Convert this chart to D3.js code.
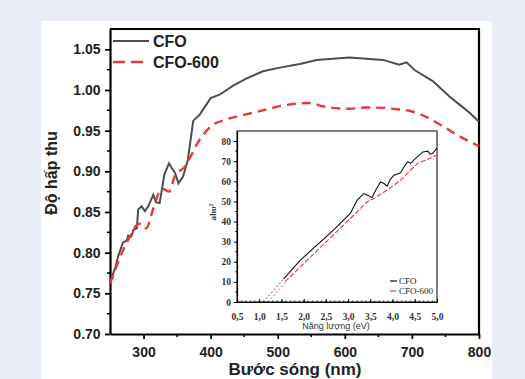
<!DOCTYPE html>
<html>
<head>
<meta charset="utf-8">
<script src="https://cdn.jsdelivr.net/npm/d3@7"></script>
<style>
  body { margin: 0; background: #e8ecf6; }
  svg { display: block; }
</style>
</head>
<body>
<svg width="525" height="379"></svg>
<script>
// main spectrum (wavelength nm, absorbance)
var cfoWl  = [250, 252.5, 258, 262, 269, 275, 277, 282, 285, 290, 292, 297, 302, 307, 314.5, 318.5, 324, 331, 338, 342, 347, 352, 359, 366, 374, 384, 400, 414, 433, 453, 478, 503, 533, 558, 582, 607, 632, 657, 681, 692, 704, 731, 756, 771, 786, 800];
var cfoAbs = [0.765, 0.769, 0.782, 0.795, 0.812, 0.815, 0.821, 0.820, 0.828, 0.830, 0.853, 0.857, 0.851, 0.857, 0.871, 0.862, 0.861, 0.896, 0.910, 0.904, 0.898, 0.885, 0.894, 0.914, 0.962, 0.970, 0.990, 0.9945, 1.005, 1.014, 1.023, 1.0275, 1.032, 1.037, 1.0385, 1.040, 1.0385, 1.037, 1.031, 1.034, 1.0245, 1.011, 0.992, 0.982, 0.972, 0.961];

var cfo600Wl  = [250, 255, 262, 270, 280, 290, 297, 304, 314, 324, 330, 338, 347, 362, 370, 380, 390, 400, 424, 453, 483, 508, 533, 548, 567, 582, 607, 632, 657, 681, 696, 721, 746, 771, 800];
var cfo600Abs = [0.762, 0.772, 0.788, 0.804, 0.820, 0.834, 0.836, 0.830, 0.853, 0.875, 0.878, 0.875, 0.895, 0.906, 0.918, 0.934, 0.946, 0.955, 0.964, 0.970, 0.976, 0.981, 0.9835, 0.984, 0.980, 0.978, 0.977, 0.9785, 0.978, 0.976, 0.9745, 0.967, 0.9555, 0.943, 0.931];

var xTicks = [300, 400, 500, 600, 700, 800];
var yTicks = [0.70, 0.75, 0.80, 0.85, 0.90, 0.95, 1.00, 1.05];

// inset Tauc plot (energy eV, (ahv)^2)
var insCfoE  = [1.55, 1.92, 2.67, 3.05, 3.2, 3.35, 3.45, 3.54, 3.62, 3.73, 3.81, 3.88, 3.95, 4.03, 4.18, 4.26, 4.34, 4.41, 4.5, 4.56, 4.68, 4.79, 4.85, 4.90, 5.0];
var insCfoV  = [11.5, 20.7, 35.7, 44, 50.5, 53.9, 53, 51.9, 55.6, 59.7, 58.9, 57.6, 61, 63, 64.2, 67.2, 69.7, 68.9, 71, 72.1, 74.6, 75, 73.5, 73.8, 76.5];
var insCfo600E = [1.58, 2.3, 3.05, 3.43, 3.58, 3.9, 4.18, 4.56, 4.8, 5.0];
var insCfo600V = [10, 25.5, 41.5, 49.8, 51.4, 56, 60.5, 68.9, 71, 73];
var insCfoFitE = [1.09, 1.55], insCfoFitV = [0, 11.5];
var insCfo600FitE = [1.2, 1.6], insCfo600FitV = [0, 10];
var insXTicks = [0.5, 1.0, 1.5, 2.0, 2.5, 3.0, 3.5, 4.0, 4.5, 5.0];
var insYTicks = [0, 10, 20, 30, 40, 50, 60, 70, 80];

var svg = d3.select("svg");
var sans = "'Liberation Sans', Arial, sans-serif";
var serif = "'Liberation Serif', 'Times New Roman', serif";

svg.append("rect").attr("x", 41).attr("y", 21).attr("width", 451).attr("height", 360).attr("fill", "#fff");

var m = {left: 110, right: 479, top: 29, bottom: 334};
var x = d3.scaleLinear().domain([250, 800]).range([m.left, m.right]);
var y = d3.scaleLinear().domain([0.70, 1.075]).range([m.bottom, m.top]);

var g = svg.append("g");

// minor ticks
g.selectAll(".mx").data(d3.range(350, 800, 100)).enter().append("line")
  .attr("x1", d => x(d)).attr("x2", d => x(d)).attr("y1", m.bottom).attr("y2", m.bottom + 3)
  .attr("stroke", "#000").attr("stroke-width", 1.5);
g.selectAll(".my").data(d3.range(0.725, 1.07, 0.05)).enter().append("line")
  .attr("x1", m.left).attr("x2", m.left - 3).attr("y1", d => y(d)).attr("y2", d => y(d))
  .attr("stroke", "#000").attr("stroke-width", 1.5);

var xa = g.append("g").attr("transform", "translate(0," + m.bottom + ")")
  .call(d3.axisBottom(x).tickValues(xTicks).tickSize(5).tickSizeOuter(0).tickFormat(d3.format("d")));
var ya = g.append("g").attr("transform", "translate(" + m.left + ",0)")
  .call(d3.axisLeft(y).tickValues(yTicks).tickSize(5).tickSizeOuter(0).tickFormat(d3.format(".2f")));
[xa, ya].forEach(function(a) {
  a.select(".domain").attr("stroke-width", 2.2);
  a.selectAll(".tick line").attr("stroke-width", 1.8);
  a.selectAll("text").attr("font-family", sans).attr("font-weight", "bold").attr("font-size", 14).attr("fill", "#222");
});
xa.selectAll("text").attr("dy", "1.05em");
ya.selectAll("text").attr("dx", "-0.1em");

// top & right frame
g.append("path").attr("d", "M" + m.left + "," + m.top + "H" + m.right + "V" + m.bottom)
  .attr("fill", "none").attr("stroke", "#000").attr("stroke-width", 2.2);

var line = d3.line().x(d => x(d[0])).y(d => y(d[1]));
g.append("path").datum(d3.zip(cfoWl, cfoAbs)).attr("d", line)
  .attr("fill", "none").attr("stroke", "#4d4d4d").attr("stroke-width", 2);
g.append("path").datum(d3.zip(cfo600Wl, cfo600Abs)).attr("d", line.curve(d3.curveMonotoneX))
  .attr("fill", "none").attr("stroke", "#e8383d").attr("stroke-width", 2.4).attr("stroke-dasharray", "9,6");

// legend
g.append("line").attr("x1", 113).attr("x2", 149).attr("y1", 41).attr("y2", 41).attr("stroke", "#4d4d4d").attr("stroke-width", 2);
g.append("line").attr("x1", 113).attr("x2", 149).attr("y1", 62).attr("y2", 62).attr("stroke", "#e8383d").attr("stroke-width", 2.4).attr("stroke-dasharray", "12,6");
g.append("text").attr("x", 153).attr("y", 47).text("CFO").attr("font-family", sans).attr("font-weight", "bold").attr("font-size", 16).attr("fill", "#222");
g.append("text").attr("x", 153).attr("y", 68).text("CFO-600").attr("font-family", sans).attr("font-weight", "bold").attr("font-size", 16).attr("fill", "#222");

// axis titles
svg.append("text").attr("x", 295).attr("y", 375).attr("text-anchor", "middle").text("Bước sóng (nm)")
  .attr("font-family", sans).attr("font-weight", "bold").attr("font-size", 17).attr("fill", "#222");
svg.append("text").attr("transform", "translate(57,173) rotate(-90)").attr("text-anchor", "middle").text("Độ hấp thu")
  .attr("font-family", sans).attr("font-weight", "bold").attr("font-size", 16).attr("fill", "#222");

// inset
var im = {left: 237, right: 437, top: 131, bottom: 302};
var ix = d3.scaleLinear().domain([0.5, 5.0]).range([im.left, im.right]);
var iy = d3.scaleLinear().domain([0, 85]).range([im.bottom, im.top]);
var ig = svg.append("g");
ig.append("rect").attr("x", im.left).attr("y", im.top).attr("width", im.right - im.left).attr("height", im.bottom - im.top)
  .attr("fill", "#fff").attr("stroke", "#000").attr("stroke-width", 1);

var comma = d => d3.format(".1f")(d).replace(".", ",");
var ixa = ig.append("g").attr("transform", "translate(0," + im.bottom + ")")
  .call(d3.axisBottom(ix).tickValues(insXTicks).tickSize(-3).tickSizeOuter(0).tickFormat(comma));
ixa.selectAll("text").attr("dy", "1.6em");
ig.selectAll(".imx").data(d3.range(0.6, 5.0, 0.1)).enter().append("line")
  .attr("x1", d => ix(d)).attr("x2", d => ix(d)).attr("y1", im.bottom).attr("y2", im.bottom - 1.5)
  .attr("stroke", "#000").attr("stroke-width", 0.8);
var iya = ig.append("g").attr("transform", "translate(" + im.left + ",0)")
  .call(d3.axisLeft(iy).tickValues(insYTicks).tickSize(3).tickSizeOuter(0));
ig.selectAll(".imy").data(d3.range(5, 85, 10)).enter().append("line")
  .attr("x1", im.left).attr("x2", im.left - 2).attr("y1", d => iy(d)).attr("y2", d => iy(d))
  .attr("stroke", "#000").attr("stroke-width", 0.8);
[ixa, iya].forEach(function(a) {
  a.select(".domain").attr("stroke-width", 1.2);
  a.selectAll("text").attr("font-family", serif).attr("font-weight", "bold").attr("font-size", 9.5).attr("fill", "#333");
});

var iline = d3.line().x(d => ix(d[0])).y(d => iy(d[1]));
ig.append("path").datum(d3.zip(insCfoFitE, insCfoFitV)).attr("d", iline)
  .attr("fill", "none").attr("stroke", "#333").attr("stroke-width", 0.8).attr("stroke-dasharray", "2,2");
ig.append("path").datum(d3.zip(insCfo600FitE, insCfo600FitV)).attr("d", iline)
  .attr("fill", "none").attr("stroke", "#e8383d").attr("stroke-width", 0.8).attr("stroke-dasharray", "2,2");
ig.append("path").datum(d3.zip(insCfoE, insCfoV)).attr("d", iline)
  .attr("fill", "none").attr("stroke", "#111").attr("stroke-width", 1.1);
ig.append("path").datum(d3.zip(insCfo600E, insCfo600V)).attr("d", iline)
  .attr("fill", "none").attr("stroke", "#e8383d").attr("stroke-width", 1.1).attr("stroke-dasharray", "5,2");

// inset legend
ig.append("line").attr("x1", 390).attr("x2", 397).attr("y1", 281).attr("y2", 281).attr("stroke", "#111").attr("stroke-width", 1.2);
ig.append("line").attr("x1", 390).attr("x2", 396).attr("y1", 291).attr("y2", 291).attr("stroke", "#e8383d").attr("stroke-width", 1.2);
ig.append("text").attr("x", 399).attr("y", 284).text("CFO").attr("font-family", serif).attr("font-size", 9).attr("fill", "#222");
ig.append("text").attr("x", 399).attr("y", 294).text("CFO-600").attr("font-family", serif).attr("font-size", 9).attr("fill", "#222");

ig.append("text").attr("x", 336).attr("y", 329).attr("text-anchor", "middle").text("Năng lượng (eV)")
  .attr("font-family", sans).attr("font-size", 9).attr("fill", "#333");
ig.append("text").attr("transform", "translate(216,212) rotate(-90)").attr("text-anchor", "middle")
  .attr("font-family", serif).attr("font-weight", "bold").attr("font-size", 9).attr("fill", "#333")
  .text("ahυ").append("tspan").attr("dy", -3).attr("font-size", 6).text("2");
</script>
</body>
</html>
